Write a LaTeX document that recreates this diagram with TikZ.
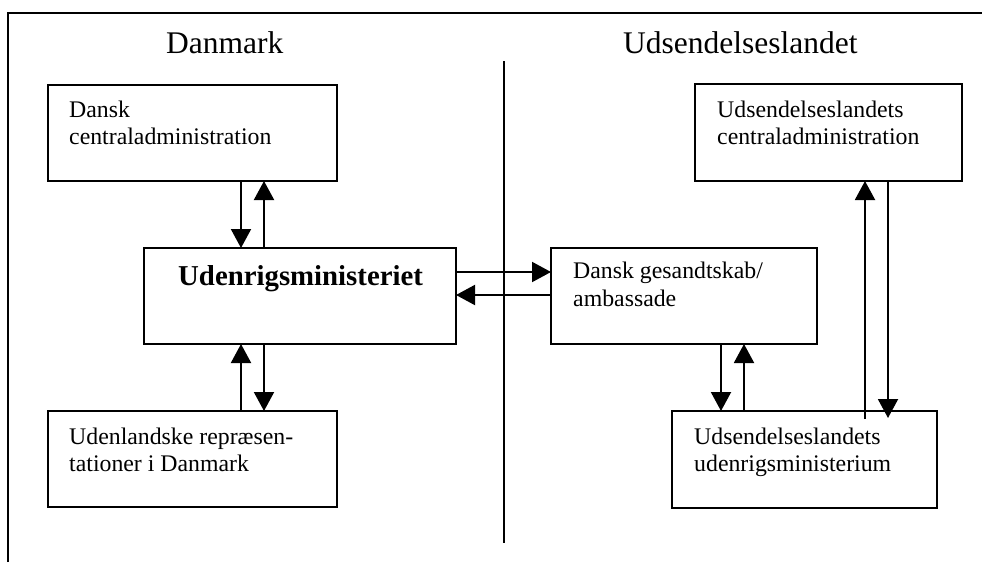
\documentclass[tikz,border=0pt]{standalone}
\usepackage{fontspec}
\setmainfont{Liberation Serif}
\usetikzlibrary{arrows.meta}
\begin{document}
\begin{tikzpicture}[x=1pt,y=-1pt,
  frame/.style={line width=2pt},
  box/.style={draw,line width=2pt,rectangle,inner sep=0pt,outer sep=0pt,anchor=north west},
  txt/.style={anchor=base west,inner sep=0pt,font=\fontsize{23.8}{27}\selectfont},
  ttl/.style={anchor=base west,inner sep=0pt,font=\fontsize{31.5}{36}\selectfont},
  arr/.style={line width=2pt,-{Triangle[width=20pt,length=19pt]}}]
\useasboundingbox (0,0) rectangle (982,562);
% frame
\coordinate (fl) at (8,562);
\coordinate (ftl) at (8,13);
\coordinate (ftr) at (982,13);
\draw[frame] (fl) -- (ftl) -- (ftr);
% divider
\coordinate (dt) at (504,61);
\coordinate (db) at (504,543);
\draw[line width=2pt] (dt) -- (db);
% titles
\node[ttl] (tdk) at (166,53) {Danmark};
\node[ttl] (tud) at (623,53) {Udsendelseslandet};
% boxes
\node[box,minimum width=289pt,minimum height=96pt] (b1) at (48,85) {};
\node[box,minimum width=312pt,minimum height=96pt] (b2) at (144,248) {};
\node[box,minimum width=289pt,minimum height=96pt] (b3) at (48,411) {};
\node[box,minimum width=267pt,minimum height=97pt] (b4) at (695,84) {};
\node[box,minimum width=266pt,minimum height=96pt] (b5) at (551,248) {};
\node[box,minimum width=265pt,minimum height=97pt] (b6) at (672,411) {};
% texts
\node[txt] (t1a) at (69,117) {Dansk};
\node[txt] (t1b) at (69,144) {centraladministration};
\node[anchor=base west,inner sep=0pt,font=\bfseries\fontsize{28.8}{34}\selectfont] (t2) at (178,285) {Udenrigsministeriet};
\node[txt] (t3a) at (69,444) {Udenlandske repræsen-};
\node[txt] (t3b) at (69,471) {tationer i Danmark};
\node[txt] (t4a) at (717,117) {Udsendelseslandets};
\node[txt] (t4b) at (717,144) {centraladministration};
\node[txt] (t5a) at (573,278) {Dansk gesandtskab/};
\node[txt] (t5b) at (573,306) {ambassade};
\node[txt] (t6a) at (694,444) {Udsendelseslandets};
\node[txt] (t6b) at (694,471) {udenrigsministerium};
% arrows left column
\draw[arr] (b1.south -| 241,0) -- (b2.north -| 241,0);
\draw[arr] (b2.north -| 264,0) -- (b1.south -| 264,0);
\draw[arr] (b3.north -| 241,0) -- (b2.south -| 241,0);
\draw[arr] (b2.south -| 264,0) -- (b3.north -| 264,0);
% horizontal arrows
\draw[arr] (b2.east |- 0,272) -- (b5.west |- 0,272);
\draw[arr] (b5.west |- 0,295) -- (b2.east |- 0,295);
% right lower arrows
\draw[arr] (b5.south -| 721,0) -- (b6.north -| 721,0);
\draw[arr] (b6.north -| 744,0) -- (b5.south -| 744,0);
% long arrows
\draw[arr] ([yshift=-8pt]b6.north -| 865,0) -- (b4.south -| 865,0);
\draw[arr] (b4.south -| 888,0) -- ([yshift=-7pt]b6.north -| 888,0);
\end{tikzpicture}
\end{document}
